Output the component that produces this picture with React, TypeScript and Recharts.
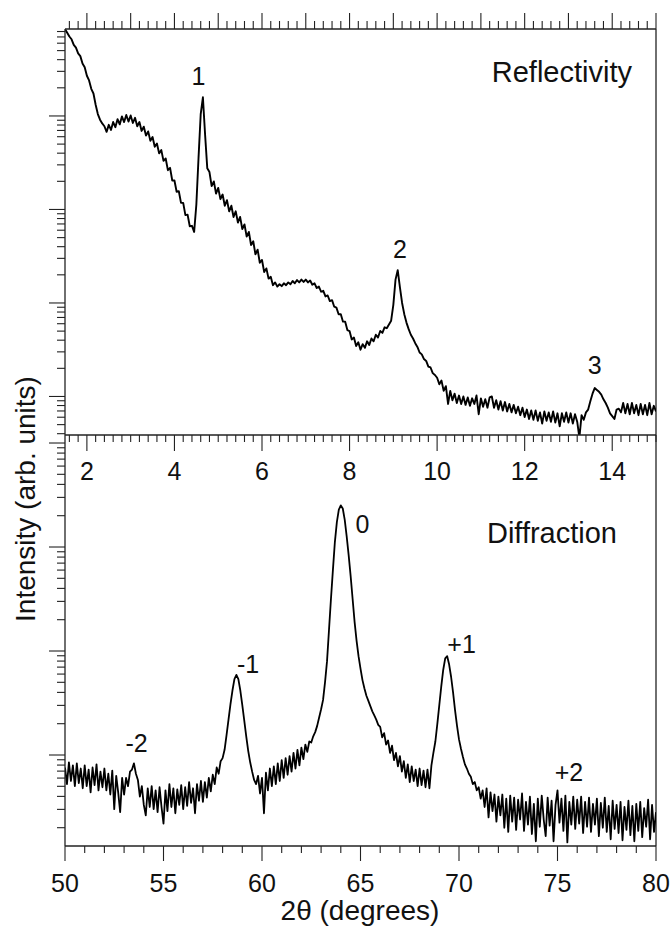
import { LineChart, Line, XAxis, YAxis, ReferenceLine, ReferenceDot } from 'recharts';

const FONT = '"Liberation Sans", Arial, Helvetica, sans-serif';
const AXIS = '#222';
const INK = '#000';

// Reflectivity scan: 1.50 .. 15.00 deg in 0.05 deg steps, values are log10(intensity)
const REFL_START = 1.5;
const REFL_STEP = 0.05;
const reflLog = [
  4.93, 4.89, 4.85, 4.82, 4.76, 4.73, 4.67, 4.64, 4.56, 4.52,
  4.43, 4.38, 4.29, 4.24, 4.12, 4.02, 3.96, 3.92, 3.89, 3.83,
  3.905, 3.85, 3.935, 3.88, 3.965, 3.91, 3.995, 3.935, 4.01, 3.94,
  4.005, 3.925, 3.98, 3.89, 3.935, 3.84, 3.885, 3.79, 3.835, 3.735,
  3.775, 3.67, 3.705, 3.6, 3.635, 3.52, 3.545, 3.42, 3.445, 3.31,
  3.31, 3.19, 3.195, 3.07, 3.07, 2.94, 2.945, 2.82, 2.825, 2.76,
  3.05, 3.55, 4.02, 4.2, 3.8, 3.44, 3.4, 3.25, 3.3, 3.17,
  3.23, 3.11, 3.16, 3.04, 3.1, 2.98, 3.04, 2.92, 2.98, 2.86,
  2.92, 2.79, 2.84, 2.71, 2.76, 2.62, 2.66, 2.52, 2.57, 2.43,
  2.46, 2.33, 2.37, 2.26, 2.28, 2.19, 2.22, 2.175, 2.2, 2.18,
  2.21, 2.19, 2.22, 2.2, 2.235, 2.21, 2.245, 2.22, 2.25, 2.225,
  2.25, 2.22, 2.24, 2.195, 2.21, 2.16, 2.175, 2.12, 2.13, 2.07,
  2.08, 2.02, 2.03, 1.96, 1.95, 1.88, 1.88, 1.8, 1.8, 1.71,
  1.7, 1.61, 1.63, 1.54, 1.58, 1.5, 1.56, 1.52, 1.59, 1.55,
  1.62, 1.59, 1.66, 1.63, 1.7, 1.68, 1.74, 1.73, 1.77, 1.81,
  1.98, 2.25, 2.35, 2.17, 2.0, 1.88, 1.79, 1.72, 1.66, 1.62,
  1.57, 1.53, 1.47, 1.45, 1.4, 1.38, 1.32, 1.31, 1.25, 1.23,
  1.2, 1.13, 1.17, 1.06, 1.11, 0.92, 1.06, 0.96, 1.03, 0.93,
  1.01, 0.92, 1.0, 0.91, 0.99, 0.9, 0.98, 0.92, 1.01, 0.81,
  0.98, 0.89, 0.97, 0.88, 0.99, 1.0, 0.88, 0.96, 0.86, 0.95,
  0.85, 0.94, 0.84, 0.92, 0.83, 0.91, 0.82, 0.89, 0.8, 0.88,
  0.78, 0.86, 0.76, 0.85, 0.75, 0.85, 0.74, 0.83, 0.71, 0.84,
  0.74, 0.83, 0.73, 0.84, 0.72, 0.82, 0.68, 0.82, 0.73, 0.83,
  0.72, 0.82, 0.71, 0.81, 0.73, 0.56, 0.8, 0.75, 0.83, 0.86,
  0.95, 1.03, 1.09, 1.07, 1.05, 1.02, 0.97, 0.93, 0.88, 0.82,
  0.79, 0.76, 0.86, 0.87, 0.83, 0.93, 0.82, 0.92, 0.81, 0.93,
  0.82, 0.91, 0.8, 0.92, 0.81, 0.91, 0.8, 0.93, 0.81, 0.9,
  0.84,
];

// Diffraction scan: 50.0 .. 80.0 deg in 0.1 deg steps, log10(intensity)
const DIFF_START = 50;
const DIFF_STEP = 0.1;
const diffLog = [
  0.88, 0.72, 0.93, 0.75, 0.9, 0.7, 0.92, 0.73, 0.87, 0.68,
  0.9, 0.7, 0.86, 0.64, 0.88, 0.71, 0.91, 0.66, 0.84, 0.69,
  0.87, 0.66, 0.82, 0.62, 0.85, 0.48, 0.8, 0.64, 0.45, 0.78,
  0.62, 0.78, 0.7, 0.84, 0.86, 0.92, 0.82, 0.76, 0.6, 0.7,
  0.52, 0.42, 0.68, 0.5, 0.7, 0.48, 0.66, 0.45, 0.69, 0.5,
  0.34, 0.66, 0.46, 0.72, 0.5, 0.68, 0.44, 0.67, 0.52, 0.71,
  0.48, 0.69, 0.51, 0.74, 0.54, 0.68, 0.44, 0.72, 0.56, 0.75,
  0.55, 0.74, 0.59, 0.78, 0.65, 0.81, 0.72, 0.88, 0.82, 0.94,
  0.97, 1.05, 1.19, 1.34, 1.49, 1.62, 1.73, 1.77, 1.73, 1.62,
  1.48, 1.33, 1.18, 1.04, 0.93, 0.84, 0.76, 0.72, 0.8, 0.63,
  0.78, 0.44, 0.83, 0.66, 0.87, 0.7, 0.89, 0.72, 0.92, 0.75,
  0.95, 0.78, 0.97, 0.81, 0.99, 0.84, 1.02, 0.87, 1.05, 0.9,
  1.07, 0.96, 1.1, 1.03, 1.13, 1.12, 1.18, 1.22, 1.28, 1.36,
  1.44, 1.53, 1.7, 1.9, 2.2, 2.5, 2.78, 3.05, 3.24, 3.36,
  3.4, 3.37, 3.26, 3.1, 2.92, 2.72, 2.5, 2.28, 2.1, 1.95,
  1.83, 1.72, 1.64, 1.57, 1.52, 1.47, 1.42, 1.38, 1.34, 1.29,
  1.27, 1.17, 1.21, 1.1, 1.14, 1.02, 1.09, 0.95, 1.02, 0.89,
  0.99, 0.84, 0.94, 0.78, 0.91, 0.74, 0.89, 0.75, 0.86, 0.7,
  0.87, 0.71, 0.85, 0.69, 0.86, 0.68, 0.9, 1.02, 1.13, 1.3,
  1.48, 1.66, 1.82, 1.93, 1.95, 1.87, 1.75, 1.6, 1.43, 1.28,
  1.15, 1.06, 0.98, 0.91, 0.87, 0.82, 0.79, 0.72, 0.74, 0.66,
  0.69, 0.58, 0.66, 0.5, 0.68, 0.4, 0.64, 0.46, 0.62, 0.36,
  0.6, 0.42, 0.62, 0.3, 0.58, 0.26, 0.61, 0.36, 0.59, 0.28,
  0.57, 0.38, 0.63, 0.27, 0.55, 0.33, 0.6, 0.24, 0.53, 0.17,
  0.58, 0.31, 0.61, 0.38, 0.22, 0.59, 0.32, 0.56, 0.17, 0.52,
  0.66, 0.35, 0.58, 0.27, 0.61, 0.16, 0.55, 0.33, 0.6, 0.29,
  0.57, 0.34, 0.6, 0.25, 0.55, 0.31, 0.59, 0.26, 0.53, 0.33,
  0.58, 0.22, 0.54, 0.3, 0.59, 0.26, 0.51, 0.19, 0.56, 0.29,
  0.52, 0.25, 0.55, 0.18, 0.5, 0.28, 0.56, 0.23, 0.51, 0.17,
  0.53, 0.27, 0.55, 0.21, 0.49, 0.31, 0.57, 0.19, 0.52, 0.26,
  0.45,
];

const reflTickLabels = [2, 4, 6, 8, 10, 12, 14];
const diffTickLabels = [50, 55, 60, 65, 70, 75, 80];

// peak annotations: [label, angle, log10 intensity of the label centre]
const reflPeaks: [string, number, number][] = [
  ['1', 4.55, 4.43],
  ['2', 9.15, 2.58],
  ['3', 13.6, 1.33],
];
const diffPeaks: [string, number, number][] = [
  ['-2', 53.63, 1.11],
  ['-1', 59.29, 1.87],
  ['0', 65.1, 3.22],
  ['+1', 70.13, 2.07],
  ['+2', 75.58, 0.84],
];

const REFL_X: [number, number] = [1.5, 15];
const DIFF_X: [number, number] = [50, 80];
const REFL_Y: [number, number] = [Math.pow(10, 0.588), Math.pow(10, 4.93)];
const DIFF_Y: [number, number] = [Math.pow(10, 0.125), Math.pow(10, 4.077)];

const reflData = reflLog.map((v, i) => ({
  angle: +(REFL_START + i * REFL_STEP).toFixed(2),
  intensity: Math.pow(10, v),
}));
const diffData = diffLog.map((v, i) => ({
  angle: +(DIFF_START + i * DIFF_STEP).toFixed(1),
  intensity: Math.pow(10, v),
}));

const near = (a: number, b: number) => Math.abs(a - b) < 1e-6;

// tick positions the axes need
const reflTicks: number[] = [];
for (let i = 8; i <= 75; i++) reflTicks.push(+(i / 5).toFixed(1));
const diffTicks: number[] = [];
for (let v = 50; v <= 80; v++) diffTicks.push(v);

function logTicks(lo: number, hi: number) {
  const out: number[] = [];
  for (let e = -1; e <= 6; e++) {
    for (let m = 1; m <= 9; m++) {
      const v = m * Math.pow(10, e);
      if (v >= lo && v <= hi) out.push(v);
    }
  }
  return out;
}
const isDecade = (v: number) => near(Math.log10(v), Math.round(Math.log10(v)));

type TickOpts = {
  side: 'top' | 'bottom' | 'left';
  isMajor: (v: number) => boolean;
  majorLen: number;
  minorLen: number;
  labels?: number[];
  labelDy?: number;
};

function tickRenderer(o: TickOpts) {
  return (props: any) => {
    const { x, y, payload } = props;
    const v = payload.value as number;
    const len = o.isMajor(v) ? o.majorLen : o.minorLen;
    let x2 = x;
    let y2 = y;
    if (o.side === 'top') y2 = y - len;
    else if (o.side === 'bottom') y2 = y + len;
    else x2 = x - len;
    const showLabel = o.labels ? o.labels.some((l) => near(l, v)) : false;
    return (
      <g>
        <line x1={x} y1={y} x2={x2} y2={y2} stroke={AXIS} strokeWidth={1.1} />
        {showLabel && (
          <text x={x} y={y + (o.labelDy ?? 0)} textAnchor="middle" fontFamily={FONT} fontSize={25} fill="#111">
            {v}
          </text>
        )}
      </g>
    );
  };
}

const axisLine = { stroke: AXIS, strokeWidth: 1.3 };

function peakLabel(text: string) {
  return { value: text, position: 'center' as const, fontSize: 25, fontFamily: FONT, fill: '#111' };
}

function ReflectivityPanel() {
  return (
    <LineChart width={672} height={500} data={reflData} margin={{ top: 0, right: 16, bottom: 30, left: 0 }}>
      <XAxis
        xAxisId="top"
        orientation="top"
        type="number"
        dataKey="angle"
        domain={REFL_X}
        allowDataOverflow
        height={29}
        ticks={reflTicks}
        interval={0}
        tickSize={0}
        tickMargin={0}
        axisLine={axisLine}
        tick={tickRenderer({ side: 'top', isMajor: (v) => near(v, Math.round(v)), majorLen: 16, minorLen: 8 })}
      />
      <XAxis
        xAxisId="bot"
        type="number"
        dataKey="angle"
        domain={REFL_X}
        allowDataOverflow
        height={35}
        ticks={reflTicks}
        interval={0}
        tickSize={0}
        tickMargin={0}
        axisLine={axisLine}
        tick={tickRenderer({
          side: 'bottom',
          isMajor: (v) => reflTickLabels.some((l) => near(l, v)),
          majorLen: 16,
          minorLen: 7,
          labels: reflTickLabels,
          labelDy: 45,
        })}
      />
      <YAxis
        type="number"
        scale="log"
        domain={REFL_Y}
        allowDataOverflow
        width={65}
        ticks={logTicks(REFL_Y[0], REFL_Y[1])}
        interval={0}
        tickSize={0}
        tickMargin={0}
        axisLine={axisLine}
        tick={tickRenderer({ side: 'left', isMajor: isDecade, majorLen: 16, minorLen: 8 })}
      />
      <ReferenceLine xAxisId="bot" x={15} stroke={AXIS} strokeWidth={1.3} />
      <Line
        xAxisId="bot"
        type="linear"
        dataKey="intensity"
        stroke={INK}
        strokeWidth={1.9}
        strokeLinejoin="round"
        dot={false}
        isAnimationActive={false}
      />
      {reflPeaks.map(([t, a, l]) => (
        <ReferenceDot key={t} xAxisId="bot" x={a} y={Math.pow(10, l)} r={0} stroke="none" fill="none" label={peakLabel(t)} />
      ))}
    </LineChart>
  );
}

function DiffractionPanel() {
  return (
    <LineChart width={672} height={926} data={diffData} margin={{ top: 435, right: 16, bottom: 0, left: 0 }}>
      <XAxis
        type="number"
        dataKey="angle"
        domain={DIFF_X}
        allowDataOverflow
        height={80}
        ticks={diffTicks}
        interval={0}
        tickSize={0}
        tickMargin={0}
        axisLine={axisLine}
        tick={tickRenderer({
          side: 'bottom',
          isMajor: (v) => v % 5 === 0,
          majorLen: 15,
          minorLen: 7,
          labels: diffTickLabels,
          labelDy: 46,
        })}
      />
      <YAxis
        type="number"
        scale="log"
        domain={DIFF_Y}
        allowDataOverflow
        width={65}
        ticks={logTicks(DIFF_Y[0], DIFF_Y[1])}
        interval={0}
        tickSize={0}
        tickMargin={0}
        axisLine={axisLine}
        tick={tickRenderer({ side: 'left', isMajor: isDecade, majorLen: 16, minorLen: 8 })}
      />
      <ReferenceLine x={80} stroke={AXIS} strokeWidth={1.3} />
      <Line
        type="linear"
        dataKey="intensity"
        stroke={INK}
        strokeWidth={1.8}
        strokeLinejoin="round"
        dot={false}
        isAnimationActive={false}
      />
      {diffPeaks.map(([t, a, l]) => (
        <ReferenceDot key={t} x={a} y={Math.pow(10, l)} r={0} stroke="none" fill="none" label={peakLabel(t)} />
      ))}
    </LineChart>
  );
}

export default function App() {
  return (
    <div style={{ position: 'absolute', left: 0, top: 0, width: 672, height: 926, background: '#fff', overflow: 'hidden' }}>
      <div style={{ position: 'absolute', left: 0, top: 0 }}>
        <DiffractionPanel />
      </div>
      <div style={{ position: 'absolute', left: 0, top: 0 }}>
        <ReflectivityPanel />
      </div>
      <svg
        width={672}
        height={926}
        style={{ position: 'absolute', left: 0, top: 0, pointerEvents: 'none' }}
        fontFamily={FONT}
        fill="#111"
      >
        <text x={632} y={82} textAnchor="end" fontSize={29}>
          Reflectivity
        </text>
        <text x={617} y={543} textAnchor="end" fontSize={29}>
          Diffraction
        </text>
        <text transform="translate(35,499) rotate(-90)" textAnchor="middle" fontSize={28}>
          Intensity (arb. units)
        </text>
        <text x={360} y={920} textAnchor="middle" fontSize={28}>
          2θ (degrees)
        </text>
      </svg>
    </div>
  );
}
